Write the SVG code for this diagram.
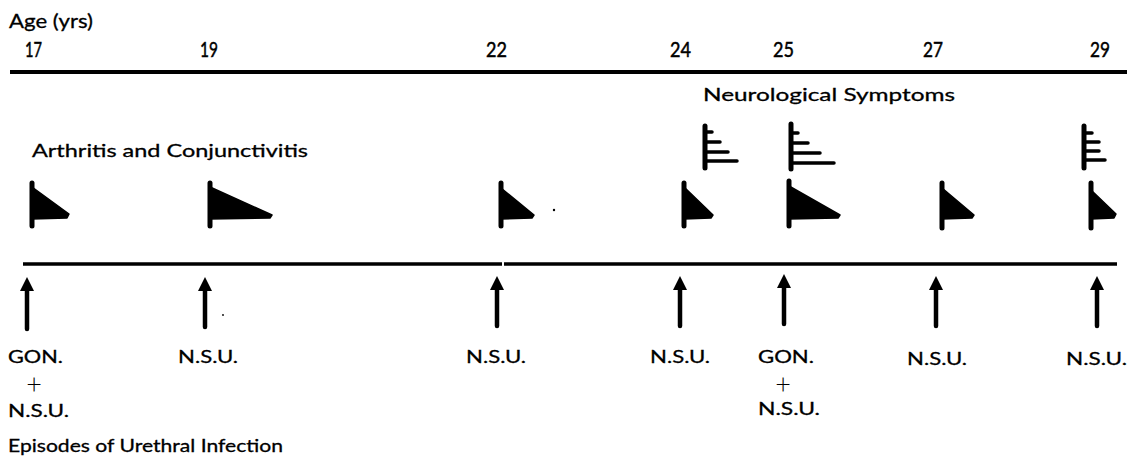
<svg xmlns="http://www.w3.org/2000/svg" width="1128" height="461" viewBox="0 0 1128 461">
<style>
text{font-family:Lato,"Noto Sans","Liberation Sans",sans-serif;fill:#000;stroke:#000;stroke-width:0.3}
.age{font-size:22px;stroke-width:0.5}
.lbl{font-size:18px}
.plus{font-size:27px;font-weight:300;stroke-width:0}
.bar{stroke:#000;stroke-width:5;stroke-linecap:round;fill:none}
.prong{stroke:#000;stroke-width:3.5;stroke-linecap:round;fill:none}
.tri{fill:#000;stroke:#000;stroke-width:1.5;stroke-linejoin:round}
.axis{stroke:#000;fill:none}
.shaft{stroke:#000;stroke-width:4.5;stroke-linecap:round}
</style>
<rect width="1128" height="461" fill="#fff"/>
<g id="axis-top">
<text x="9" y="28" class="lbl" style="font-size:20px" textLength="84" lengthAdjust="spacingAndGlyphs">Age (yrs)</text>
<text x="25" y="57" class="age" textLength="17" lengthAdjust="spacingAndGlyphs">17</text>
<text x="200" y="57" class="age" textLength="18" lengthAdjust="spacingAndGlyphs">19</text>
<text x="486" y="57" class="age" textLength="21" lengthAdjust="spacingAndGlyphs">22</text>
<text x="670" y="57" class="age" textLength="21" lengthAdjust="spacingAndGlyphs">24</text>
<text x="773" y="57" class="age" textLength="21" lengthAdjust="spacingAndGlyphs">25</text>
<text x="923" y="57" class="age" textLength="20" lengthAdjust="spacingAndGlyphs">27</text>
<text x="1090" y="57" class="age" textLength="20" lengthAdjust="spacingAndGlyphs">29</text>
<line class="axis" x1="10" y1="72" x2="1127" y2="72" stroke-width="4"/>
</g>
<g id="titles">
<text x="703" y="101" class="lbl" textLength="252" lengthAdjust="spacingAndGlyphs">Neurological Symptoms</text>
<text x="32" y="157" class="lbl" textLength="276" lengthAdjust="spacingAndGlyphs">Arthritis and Conjunctivitis</text>
<text x="8" y="452" class="lbl" textLength="275" lengthAdjust="spacingAndGlyphs">Episodes of Urethral Infection</text>
</g>
<g id="neuro-24">
<line class="bar" x1="705" y1="126" x2="705" y2="168"/>
<line class="prong" x1="705" y1="132" x2="712" y2="132"/>
<line class="prong" x1="705" y1="142" x2="720" y2="142"/>
<line class="prong" x1="705" y1="152" x2="728" y2="152"/>
<line class="prong" x1="705" y1="161" x2="737" y2="161"/>
</g>
<g id="neuro-25">
<line class="bar" x1="791" y1="124" x2="791" y2="169"/>
<line class="prong" x1="791" y1="133" x2="798" y2="133"/>
<line class="prong" x1="791" y1="143" x2="808" y2="143"/>
<line class="prong" x1="791" y1="153" x2="820" y2="153"/>
<line class="prong" x1="791" y1="163" x2="834" y2="163"/>
</g>
<g id="neuro-29">
<line class="bar" x1="1084" y1="126" x2="1084" y2="168"/>
<line class="prong" x1="1084" y1="133" x2="1092" y2="133"/>
<line class="prong" x1="1084" y1="142" x2="1099" y2="142"/>
<line class="prong" x1="1084" y1="151" x2="1099" y2="151"/>
<line class="prong" x1="1084" y1="160" x2="1105" y2="160"/>
</g>
<g id="arth-17">
<line class="bar" x1="32" y1="183" x2="32" y2="226"/>
<polygon class="tri" points="32,187 69,214 67,218 32,219"/>
</g>
<g id="arth-19">
<line class="bar" x1="210" y1="183" x2="210" y2="226"/>
<polygon class="tri" points="210,187 272,215 270,218 210,219"/>
</g>
<g id="arth-22">
<line class="bar" x1="501" y1="183" x2="501" y2="226"/>
<polygon class="tri" points="501,188 534,215 532,218 501,219"/>
</g>
<g id="arth-24">
<line class="bar" x1="684" y1="183" x2="684" y2="226"/>
<polygon class="tri" points="684,187 713,215 711,218 684,219"/>
</g>
<g id="arth-25">
<line class="bar" x1="789" y1="181" x2="789" y2="226"/>
<polygon class="tri" points="789,186 840,215 838,218 789,219"/>
</g>
<g id="arth-27">
<line class="bar" x1="942" y1="183" x2="942" y2="228"/>
<polygon class="tri" points="942,188 974,215 972,218 942,219"/>
</g>
<g id="arth-29">
<line class="bar" x1="1091" y1="183" x2="1091" y2="228"/>
<polygon class="tri" points="1091,190 1116,214 1114,218 1091,219"/>
</g>
<g id="axis-bottom">
<line class="axis" x1="23" y1="264" x2="502" y2="264" stroke-width="3.5"/>
<line class="axis" x1="504" y1="264" x2="1117" y2="264" stroke-width="3.5"/>
</g>
<g id="connectors">
<line class="shaft" x1="27" y1="288" x2="27" y2="329"/><polygon points="27,277 34,291 20,291" fill="#000"/>
<line class="shaft" x1="205" y1="288" x2="205" y2="327"/><polygon points="205,277 212,291 198,291" fill="#000"/>
<line class="shaft" x1="497" y1="287" x2="497" y2="326"/><polygon points="497,276 504,290 490,290" fill="#000"/>
<line class="shaft" x1="680" y1="287" x2="680" y2="326"/><polygon points="680,276 687,290 673,290" fill="#000"/>
<line class="shaft" x1="784" y1="285" x2="784" y2="324"/><polygon points="784,274 791,288 777,288" fill="#000"/>
<line class="shaft" x1="936" y1="287" x2="936" y2="326"/><polygon points="936,276 943,290 929,290" fill="#000"/>
<line class="shaft" x1="1097" y1="287" x2="1097" y2="326"/><polygon points="1097,276 1104,290 1090,290" fill="#000"/>
</g>
<g id="inf-17">
<text x="8" y="363" class="lbl" textLength="55" lengthAdjust="spacingAndGlyphs">GON.</text>
<text x="34" y="394" class="plus" text-anchor="middle">+</text>
<text x="8" y="417" class="lbl" textLength="61" lengthAdjust="spacingAndGlyphs">N.S.U.</text>
</g>
<g id="inf-19"><text x="178" y="363" class="lbl" textLength="60" lengthAdjust="spacingAndGlyphs">N.S.U.</text></g>
<g id="inf-22"><text x="466" y="363" class="lbl" textLength="60" lengthAdjust="spacingAndGlyphs">N.S.U.</text></g>
<g id="inf-24"><text x="650" y="363" class="lbl" textLength="60" lengthAdjust="spacingAndGlyphs">N.S.U.</text></g>
<g id="inf-25">
<text x="758" y="363" class="lbl" textLength="56" lengthAdjust="spacingAndGlyphs">GON.</text>
<text x="783" y="394" class="plus" text-anchor="middle">+</text>
<text x="758" y="415" class="lbl" textLength="62" lengthAdjust="spacingAndGlyphs">N.S.U.</text>
</g>
<g id="inf-27"><text x="907" y="365" class="lbl" textLength="60" lengthAdjust="spacingAndGlyphs">N.S.U.</text></g>
<g id="inf-29"><text x="1066" y="365" class="lbl" textLength="61" lengthAdjust="spacingAndGlyphs">N.S.U.</text></g>
<g id="specks" fill="#000">
<circle cx="554" cy="210" r="1.2"/>
<circle cx="223" cy="315" r="0.9"/>
</g>
</svg>
